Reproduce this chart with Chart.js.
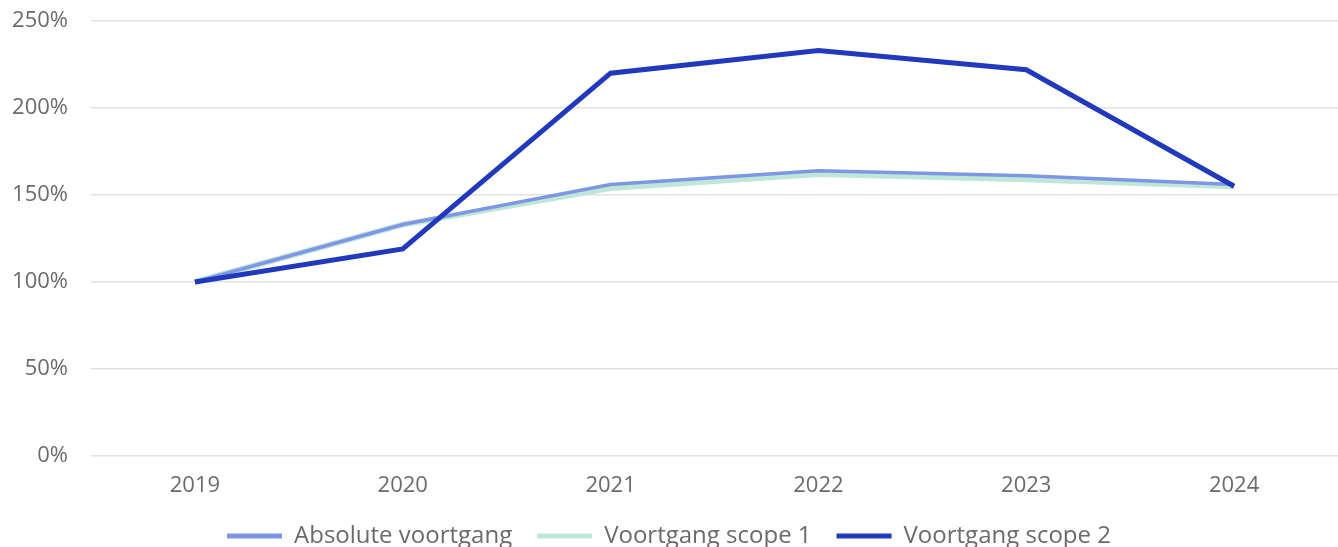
<!DOCTYPE html>
<html>
<head>
<meta charset="utf-8">
<script src="https://cdn.jsdelivr.net/npm/chart.js@4/dist/chart.umd.min.js"></script>
<style>
  html, body { margin: 0; padding: 0; background: #fff; }
  #wrap { width: 1338px; height: 547px; }
</style>
</head>
<body>
<div id="wrap"><canvas id="chart" width="1338" height="547"></canvas></div>
<script>
// data (percent of 2019)
const years = ['2019', '2020', '2021', '2022', '2023', '2024'];
const absoluteVoortgang = [100, 133, 156, 164, 161, 156];
const voortgangScope1 = [100, 133, 154, 162, 159, 155];
const voortgangScope2 = [100, 119, 220, 233, 222, 155];
const yTicks = [0, 50, 100, 150, 200, 250];

const textColor = '#6b6b6b';
const gridColor = '#e2e2e2';

function line(label, data, color, width, order) {
  return {
    label: label,
    data: data,
    borderColor: color,
    backgroundColor: color,
    borderWidth: width,
    pointRadius: 0,
    tension: 0,
    fill: false,
    order: order
  };
}

new Chart(document.getElementById('chart'), {
  type: 'line',
  data: {
    labels: years,
    datasets: [
      line('Absolute voortgang', absoluteVoortgang, '#7d97e6', 3.5, 1),
      line('Voortgang scope 1', voortgangScope1, '#bfe7d7', 6, 2),
      line('Voortgang scope 2', voortgangScope2, '#2139bd', 5, 0)
    ]
  },
  options: {
    responsive: false,
    animation: false,
    layout: { padding: { top: 21, right: 0, bottom: 0, left: 0 } },
    plugins: {
      legend: {
        position: 'bottom',
        maxHeight: 48,
        labels: {
          color: textColor,
          font: { family: 'Open Sans', size: 24 },
          boxWidth: 55,
          boxHeight: 5,
          padding: 25,
          // thin flat swatches, no outline
          generateLabels: chart => Chart.defaults.plugins.legend.labels.generateLabels(chart)
            .map(item => Object.assign(item, { lineWidth: 0 })),
          sort: (a, b) => a.datasetIndex - b.datasetIndex
        }
      },
      tooltip: { enabled: false }
    },
    scales: {
      x: {
        offset: true,
        afterFit: scale => { scale.height = 43; },
        grid: { display: false, drawTicks: false },
        border: { display: false },
        ticks: {
          color: textColor,
          font: { family: 'Open Sans', size: 22 },
          padding: 17
        }
      },
      y: {
        min: 0,
        max: 250,
        afterFit: scale => { scale.width = 91; },
        afterBuildTicks: scale => { scale.ticks = yTicks.map(v => ({ value: v })); },
        grid: { color: gridColor, lineWidth: 1.5, tickLength: 23, tickColor: 'rgba(0,0,0,0)' },
        border: { display: false },
        ticks: {
          color: textColor,
          font: { family: 'Open Sans', size: 22 },
          padding: 0,
          callback: v => v + '%'
        }
      }
    }
  }
});
</script>
</body>
</html>
